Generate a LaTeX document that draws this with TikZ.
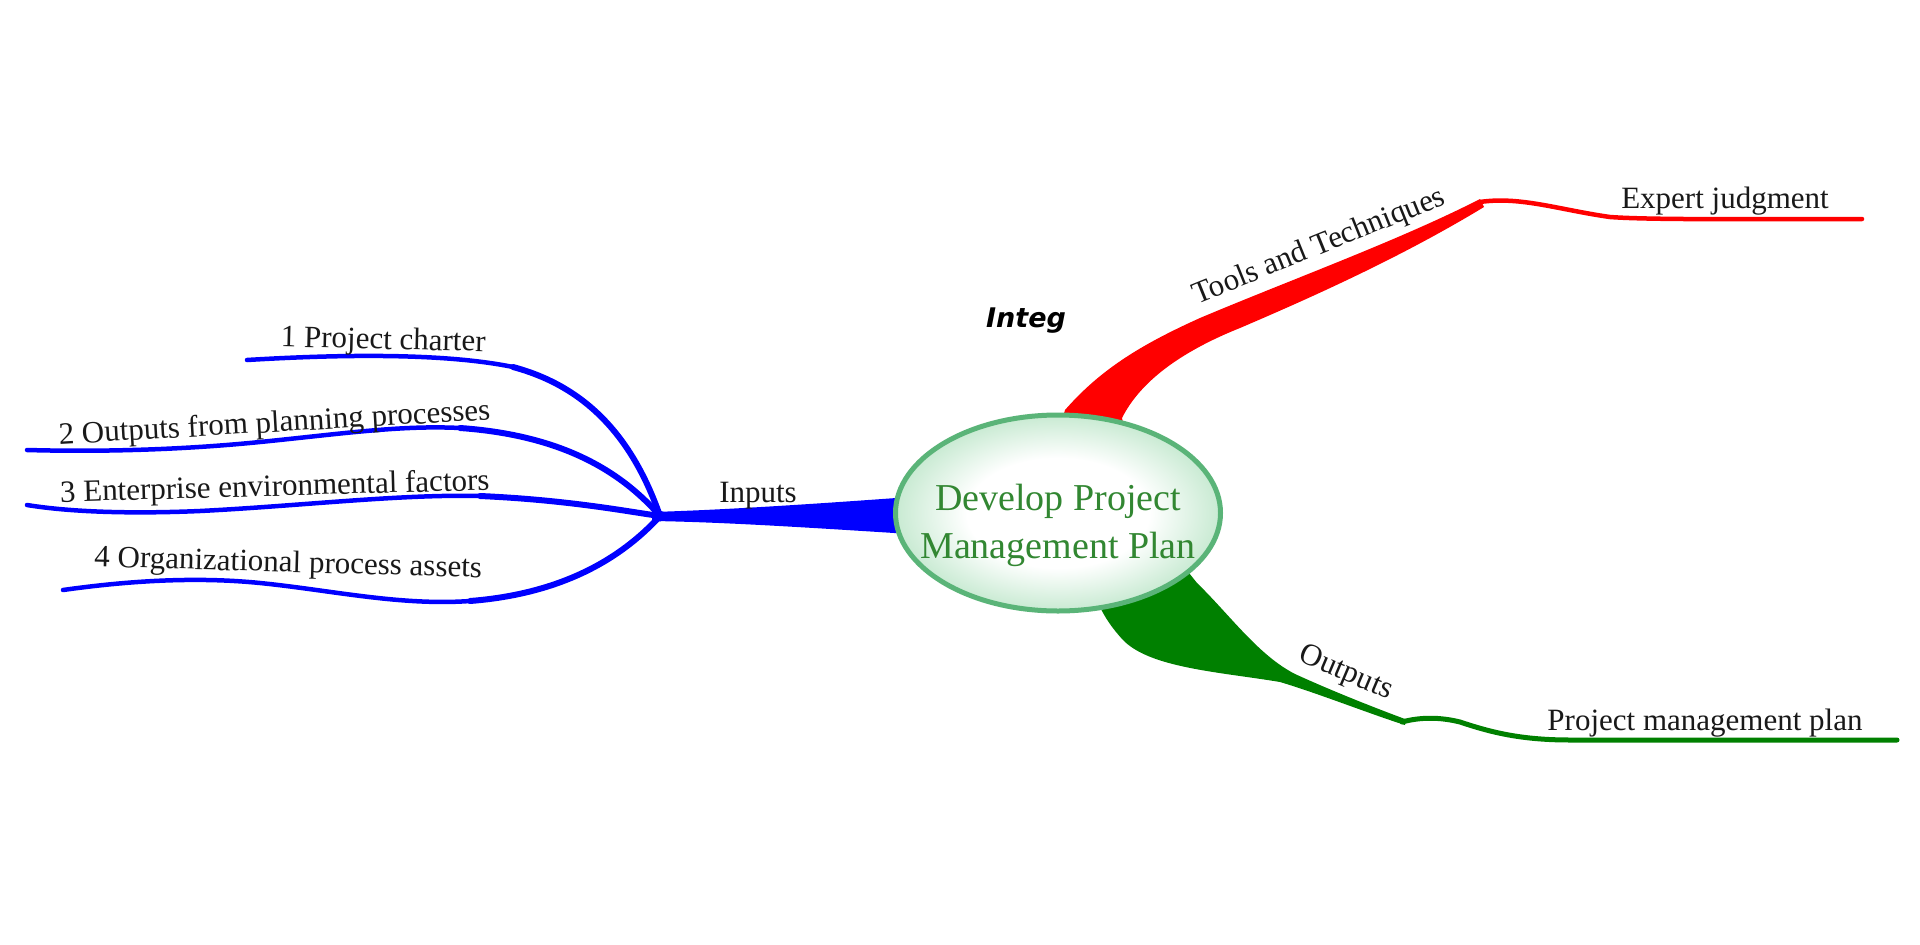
\documentclass[tikz,border=0pt]{standalone}
\usepackage{fontspec}
\setmainfont{Liberation Serif}
\newfontfamily\integfont{DejaVu Sans}
\usetikzlibrary{shapes.geometric}
\definecolor{bblue}{RGB}{0,0,255}
\definecolor{rred}{RGB}{255,0,0}
\definecolor{ggreen}{RGB}{0,128,0}
\definecolor{eborder}{RGB}{90,180,120}
\definecolor{efill}{RGB}{200,234,210}
\definecolor{etext}{RGB}{50,135,50}
\definecolor{ltext}{RGB}{25,25,25}
\pgfdeclareradialshading{coreshade}{\pgfpointorigin}{color(0bp)=(white); color(14bp)=(white); color(25bp)=(efill); color(50bp)=(efill)}
\begin{document}
\begin{tikzpicture}[x=1pt,y=-1pt,
  lbl/.style={text=ltext,font=\fontsize{31}{37}\selectfont,anchor=base,inner sep=0pt},
  bline/.style={draw=bblue,line width=4.5pt,line cap=round},
  bthick/.style={draw=bblue,line width=6pt,line cap=round},
  rline/.style={draw=rred,line width=4.5pt,line cap=round},
  gline/.style={draw=ggreen,line width=5pt,line cap=round}]
\useasboundingbox (0,0) rectangle (1920,945);
\fill[white] (0,0) rectangle (1920,945);

% named points
\coordinate (J) at (660,516);
\coordinate (e1) at (247,360);
\coordinate (e2) at (27,450);
\coordinate (e3) at (27,505);
\coordinate (e4) at (63,590);
\coordinate (redpeak) at (1480,202);
\coordinate (redend) at (1862,219);
\coordinate (greenknee) at (1402,722);
\coordinate (greenend) at (1897,740);

% blue trunk
\fill[bblue] (652,512) .. controls (720,510) and (800,505) .. (910,497) -- (910,534) .. controls (800,527) and (720,522) .. (652,521) -- cycle;

% blue branches
\draw[bline] (e1) .. controls (330,355) and (440,352) .. (513,367);
\draw[bthick] (513,367) .. controls (580,385) and (630,430) .. (J);
\draw[bline] (e2) .. controls (100,452) and (180,450) .. (260,442) .. controls (340,434) and (400,425) .. (460,428);
\draw[bthick] (460,428) .. controls (560,435) and (620,470) .. (J);
\draw[bline] (e3) .. controls (70,512) and (130,514) .. (200,511) .. controls (300,506) and (400,494) .. (480,496);
\draw[bthick] (480,496) .. controls (570,500) and (630,512) .. (J);
\draw[bline] (e4) .. controls (120,582) and (190,576) .. (260,583) .. controls (330,590) and (400,606) .. (470,601);
\draw[bthick] (470,601) .. controls (560,594) and (620,560) .. (J);
\fill[bblue] (J) circle[radius=5.5pt];

% red branch
\fill[rred] (1060,428) -- (1065,410) .. controls (1100,370) and (1140,345) .. (1200,318) .. controls (1290,280) and (1400,240) .. (1480,199)
  -- (1484,207) .. controls (1400,258) and (1310,298) .. (1240,328) .. controls (1180,352) and (1140,382) .. (1122,418) -- (1125,432) -- cycle;
\draw[rline] (redpeak) .. controls (1520,196) and (1560,210) .. (1610,217) .. controls (1650,220) and (1750,219) .. (redend);

% green branch
\fill[ggreen] (1185,568) -- (1197,583) .. controls (1230,615) and (1258,655) .. (1295,674) .. controls (1330,690) and (1370,706) .. (1405,719)
  -- (1405,725) .. controls (1370,714) and (1320,694) .. (1280,682) .. controls (1220,672) and (1150,668) .. (1123,640) .. controls (1112,628) and (1105,618) .. (1098,603) -- cycle;
\draw[gline] (greenknee) .. controls (1420,717) and (1440,717) .. (1460,722) .. controls (1490,732) and (1520,740) .. (1570,740) -- (greenend);

% central ellipse
\node[ellipse, draw=eborder, line width=5pt, minimum width=325pt, minimum height=196pt, inner sep=0pt, shading=coreshade] (core) at (1058,513) {};
\node[text=etext, font=\fontsize{38}{48}\selectfont, align=center, inner sep=0pt] (coretext) at (1058,525) {Develop Project\\Management Plan};

% labels
\node[lbl] (inputs) at (758,502) {Inputs};
\node[lbl, rotate=-1.4] (l1) at (383,349) {1 Project charter};
\node[lbl, rotate=3.3] (l2) at (275,432) {2 Outputs from planning processes};
\node[lbl, rotate=1.6] (l3) at (275,496) {3 Enterprise environmental factors};
\node[lbl, rotate=-1.6] (l4) at (288,572) {4 Organizational process assets};
\node[lbl, rotate=22] (tools) at (1322,254) {Tools and Techniques};
\node[lbl] (expert) at (1725,208) {Expert judgment};
\node[lbl, rotate=-23] (outputs) at (1343,680) {Outputs};
\node[lbl] (pmp) at (1705,730) {Project management plan};
\node[anchor=base, inner sep=0pt, font=\fontsize{27}{32}\integfont\bfseries\itshape] (integ) at (1026,327) {Integ};
\end{tikzpicture}
\end{document}
